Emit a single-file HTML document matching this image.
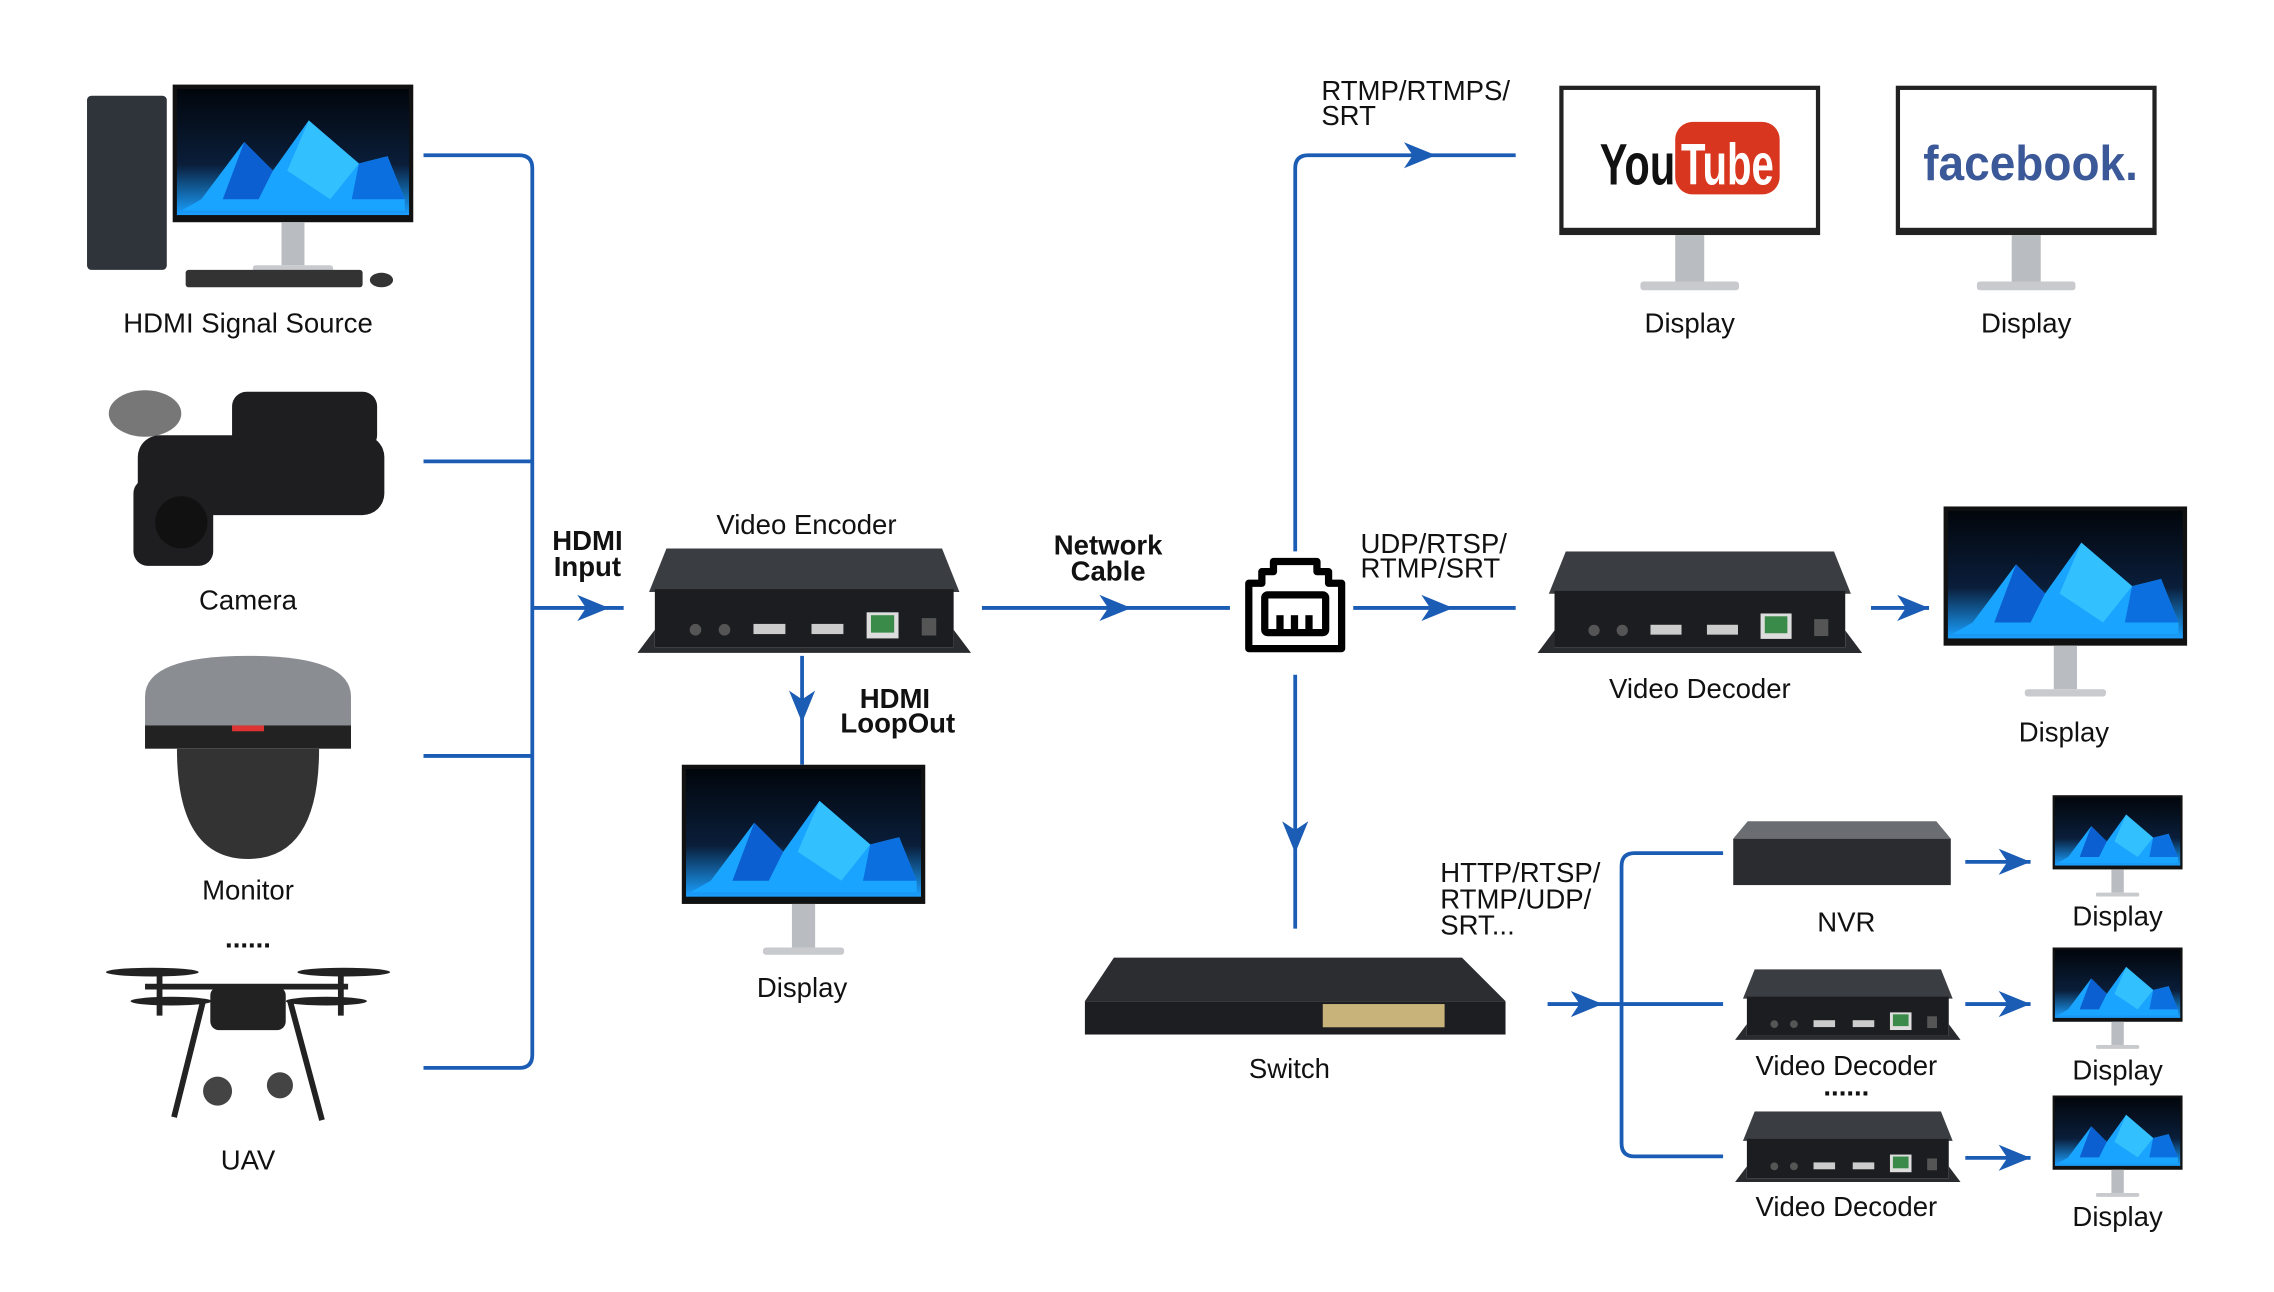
<!DOCTYPE html>
<html><head><meta charset="utf-8"><style>
html,body{margin:0;padding:0;background:#fff}
svg{display:block}
text{font-family:"Liberation Sans","DejaVu Sans",sans-serif;fill:#111}
</style></head><body>
<svg width="2274" height="1292" viewBox="0 0 1560 886" preserveAspectRatio="none" xmlns="http://www.w3.org/2000/svg">
<defs>
<linearGradient id="scr" x1="0" y1="0" x2="0" y2="1"><stop offset="0" stop-color="#02060c"/><stop offset="0.6" stop-color="#0a1e3a"/><stop offset="1" stop-color="#1aa0ff"/></linearGradient>
<symbol id="mon" viewBox="0 0 168 135">
<rect x="0" y="0" width="168" height="96" fill="#111"/>
<rect x="3" y="3" width="162" height="88" fill="url(#scr)"/>
<polygon points="20,80 50,40 70,60 95,25 130,55 150,50 162,80 162,88 6,88" fill="#19a4ff"/>
<polygon points="50,40 70,60 60,80 35,80" fill="#0b5fd0"/>
<polygon points="95,25 130,55 110,80 80,60" fill="#33c0ff"/>
<polygon points="130,55 150,50 162,80 125,80" fill="#0c6fe0"/>
<rect x="76" y="96" width="16" height="30" fill="#b9bcc0"/>
<rect x="56" y="126" width="56" height="5" rx="2" fill="#c8cacd"/>
</symbol>
<symbol id="wmon" viewBox="0 0 180 145">
<rect x="0" y="0" width="180" height="103" fill="#222"/>
<rect x="3" y="3" width="174" height="95" fill="#fff"/>
<rect x="80" y="103" width="20" height="32" fill="#b9bcc0"/>
<rect x="56" y="135" width="68" height="6" rx="2" fill="#c8cacd"/>
</symbol>
<symbol id="box" viewBox="0 0 230 74">
<polygon points="20,0 210,0 222,30 8,30" fill="#3a3d42"/>
<rect x="12" y="28" width="206" height="40" fill="#1c1d20"/>
<polygon points="0,72 12,56 12,68 218,68 218,56 230,72" fill="#2a2b2e"/>
<circle cx="40" cy="56" r="4" fill="#555"/><circle cx="60" cy="56" r="4" fill="#555"/>
<rect x="80" y="52" width="22" height="7" fill="#ccc"/><rect x="120" y="52" width="22" height="7" fill="#ccc"/>
<rect x="158" y="44" width="22" height="18" fill="#ddd"/><rect x="161" y="46" width="16" height="12" fill="#3a8a4a"/>
<rect x="196" y="48" width="10" height="12" fill="#555"/>
</symbol>
</defs>
<g transform="scale(0.995)">
<g stroke="#1b5cb5" stroke-width="2.6" fill="none">
<path d="M292,107 H358 Q367,107 367,116 V727 Q367,736 358,736 H292"/>
<path d="M292,318 H367 M292,521 H367 M367,419 H430"/>
<path d="M553,452 V527"/>
<path d="M677,419 H848"/>
<path d="M893,380 V116 Q893,107 902,107 H1045"/>
<path d="M933,419 H1045"/>
<path d="M893,465 V640"/>
<path d="M1290,419 H1330"/>
<path d="M1067,692 H1188 M1188,588 H1127 Q1118,588 1118,597 V788 Q1118,797 1127,797 H1188"/>
<path d="M1355,594 H1400 M1355,692 H1400 M1355,798 H1400"/>
</g>
<g fill="#1b5cb5">
<path d="M420,419 l-22,-9 l6,9 l-6,9z"/>
<path d="M780,419 l-22,-9 l6,9 l-6,9z"/>
<path d="M990,107 l-22,-9 l6,9 l-6,9z"/>
<path d="M1002,419 l-22,-9 l6,9 l-6,9z"/>
<path d="M1330,419 l-22,-9 l6,9 l-6,9z"/>
<path d="M1105,692 l-22,-9 l6,9 l-6,9z"/>
<path d="M1400,594 l-22,-9 l6,9 l-6,9z"/>
<path d="M1400,692 l-22,-9 l6,9 l-6,9z"/>
<path d="M1400,798 l-22,-9 l6,9 l-6,9z"/>
<path d="M553,498 l-9,-22 l9,6 l9,-6z"/>
<path d="M893,588 l-9,-22 l9,6 l9,-6z"/>
</g>
<g fill="none" stroke="#000" stroke-width="5" stroke-linejoin="round">
<path d="M861,402 H870 V394 H878 V387 H908 V394 H916 V402 H925 V447 H861 Z"/>
<rect x="872" y="410" width="42" height="26" rx="2"/>
</g>
<g fill="#000"><rect x="880" y="424" width="5" height="10"/><rect x="890" y="424" width="5" height="10"/><rect x="900" y="424" width="5" height="10"/></g>
<rect x="60" y="66" width="55" height="120" rx="3" fill="#2f343b"/>
<use href="#mon" x="119" y="58" width="166" height="134"/>
<rect x="128" y="186" width="122" height="12" rx="2" fill="#333"/>
<ellipse cx="263" cy="193" rx="8" ry="5" fill="#333"/>
<g fill="#1e1e20">
<ellipse cx="100" cy="285" rx="25" ry="16" fill="#777"/>
<rect x="95" y="300" width="170" height="55" rx="15"/>
<rect x="92" y="330" width="55" height="60" rx="10"/>
<rect x="160" y="270" width="100" height="40" rx="10"/>
<circle cx="125" cy="360" r="18" fill="#111"/>
</g>
<path d="M100,480 Q100,452 171,452 Q242,452 242,480 V515 H100 Z" fill="#8a8d92"/>
<rect x="100" y="500" width="142" height="16" fill="#222"/>
<path d="M122,516 Q122,592 171,592 Q220,592 220,516 Z" fill="#333"/>
<rect x="160" y="500" width="22" height="4" fill="#d33"/>
<g stroke="#222" stroke-width="4" fill="none">
<path d="M100,680 L240,680 M140,690 L120,770 M200,690 L222,772 M110,672 V700 M235,672 V700"/>
</g>
<g fill="#222">
<ellipse cx="105" cy="670" rx="32" ry="3"/><ellipse cx="237" cy="670" rx="32" ry="3"/>
<ellipse cx="118" cy="690" rx="28" ry="3"/><ellipse cx="225" cy="690" rx="28" ry="3"/>
<rect x="145" y="680" width="52" height="30" rx="6"/>
<circle cx="150" cy="752" r="10" fill="#444"/><circle cx="193" cy="748" r="9" fill="#444"/>
</g>
<use href="#box" x="432" y="378" width="245" height="74"/>
<use href="#box" x="1057" y="380" width="230" height="72"/>
<use href="#box" x="1195" y="668" width="158" height="50"/>
<use href="#box" x="1195" y="766" width="158" height="50"/>
<polygon points="1205,566 1335,566 1345,578 1195,578" fill="#6a6d72"/>
<rect x="1195" y="578" width="150" height="32" fill="#2a2c30"/>
<polygon points="768,660 1008,660 1038,690 748,690" fill="#2b2d31"/>
<rect x="748" y="690" width="290" height="23" fill="#1d1e21"/>
<rect x="912" y="692" width="84" height="16" fill="#c8b37a"/>
<use href="#mon" x="470" y="527" width="168" height="135"/>
<use href="#mon" x="1340" y="349" width="168" height="135"/>
<use href="#mon" x="1415" y="548" width="90" height="72"/>
<use href="#mon" x="1415" y="653" width="90" height="72"/>
<use href="#mon" x="1415" y="755" width="90" height="72"/>
<use href="#wmon" x="1075" y="59" width="180" height="145"/>
<use href="#wmon" x="1307" y="59" width="180" height="145"/>
<text x="1103" y="127" font-size="40" font-weight="bold" textLength="52" lengthAdjust="spacingAndGlyphs" style="fill:#111">You</text>
<rect x="1155" y="84" width="72" height="50" rx="12" fill="#d9361f"/>
<text x="1159" y="127" font-size="40" font-weight="bold" textLength="64" lengthAdjust="spacingAndGlyphs" style="fill:#fff">Tube</text>
<text x="1326" y="124" font-size="34" font-weight="bold" textLength="148" lengthAdjust="spacingAndGlyphs" style="fill:#3b5998">facebook.</text>
<g font-size="19" text-anchor="middle">
<text x="171" y="229">HDMI Signal Source</text>
<text x="171" y="420">Camera</text>
<text x="171" y="620">Monitor</text>
<text x="171" y="653" font-weight="bold">......</text>
<text x="171" y="806">UAV</text>
<text x="556" y="368">Video Encoder</text>
<text x="553" y="687">Display</text>
<text x="889" y="743">Switch</text>
<text x="1165" y="229">Display</text>
<text x="1397" y="229">Display</text>
<text x="1172" y="481">Video Decoder</text>
<text x="1423" y="511">Display</text>
<text x="1273" y="642">NVR</text>
<text x="1273" y="741">Video Decoder</text>
<text x="1273" y="755" font-weight="bold">......</text>
<text x="1273" y="838">Video Decoder</text>
<text x="1460" y="638">Display</text>
<text x="1460" y="744">Display</text>
<text x="1460" y="845">Display</text>
</g>
<g font-size="19" font-weight="bold" text-anchor="middle">
<text x="405" y="379">HDMI</text><text x="405" y="397">Input</text>
<text x="617" y="488">HDMI</text><text x="619" y="505">LoopOut</text>
<text x="764" y="382">Network</text><text x="764" y="400">Cable</text>
</g>
<g font-size="19">
<text x="911" y="69">RTMP/RTMPS/</text><text x="911" y="86">SRT</text>
<text x="938" y="381">UDP/RTSP/</text><text x="938" y="398">RTMP/SRT</text>
<text x="993" y="608">HTTP/RTSP/</text><text x="993" y="626">RTMP/UDP/</text><text x="993" y="644">SRT...</text>
</g>
</g>
</svg>
</body></html>
